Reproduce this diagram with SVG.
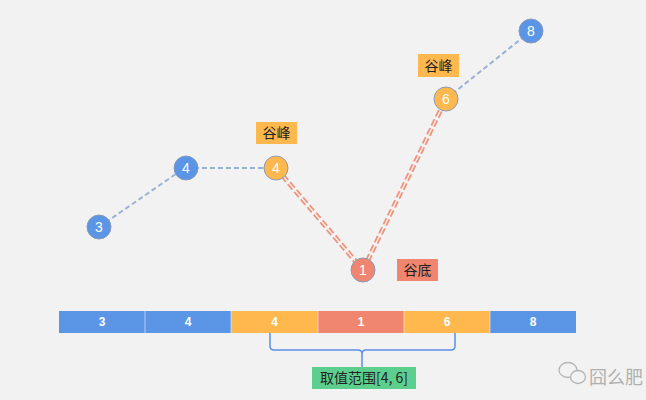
<svg xmlns="http://www.w3.org/2000/svg" width="646" height="400" viewBox="0 0 646 400">
<style>
.n{stroke:#8a9bb8;stroke-width:1}
.blue{fill:#5b96e6}.orange{fill:#ffb84d}.red{fill:#f0866f}
.nt{font-family:"Liberation Sans",Arial,sans-serif;font-size:14px;fill:#fff;text-anchor:middle}
.lt{font-family:"Noto Sans CJK SC","Liberation Sans",sans-serif;font-size:14px;fill:#222;text-anchor:middle}
.bt{font-family:"Liberation Sans",Arial,sans-serif;font-size:12px;font-weight:bold;fill:#fff;text-anchor:middle}
.bd{stroke:#9ab2d6;stroke-width:2;stroke-dasharray:5 3;fill:none}
.rd{stroke:#f0937c;stroke-width:5;stroke-dasharray:7 3;fill:none}
.rin{stroke:#f2f2f2;stroke-width:1.4;fill:none}
</style>
<rect width="646" height="400" fill="#f2f2f2"/>
<g id="connectors">
<line class="bd" x1="99" y1="227" x2="186" y2="167"/>
<line class="bd" x1="186" y1="168" x2="276" y2="168"/>
<line class="bd" x1="446" y1="99" x2="531" y2="31"/>
<line class="rd" x1="276" y1="168" x2="363" y2="270"/>
<line class="rin" x1="276" y1="168" x2="363" y2="270"/>
<line class="rd" x1="363" y1="270" x2="446" y2="99"/>
<line class="rin" x1="363" y1="270" x2="446" y2="99"/>
</g>
<g id="n3"><circle class="n blue" cx="99" cy="227" r="12"/><text class="nt" x="99" y="232">3</text></g>
<g id="n4a"><circle class="n blue" cx="186" cy="168" r="12"/><text class="nt" x="186" y="173">4</text></g>
<g id="n4b"><circle class="n orange" cx="276" cy="168" r="12"/><text class="nt" x="276" y="173">4</text></g>
<g id="n1"><circle class="n red" cx="363" cy="270" r="12"/><text class="nt" x="363" y="275">1</text></g>
<g id="n6"><circle class="n orange" cx="446" cy="99" r="12"/><text class="nt" x="446" y="104">6</text></g>
<g id="n8"><circle class="n blue" cx="531" cy="31" r="12"/><text class="nt" x="531" y="36">8</text></g>
<g id="peak1"><rect class="orange" x="256" y="122" width="41" height="22"/><text class="lt" x="276.5" y="138">谷峰</text></g>
<g id="peak2"><rect class="orange" x="418" y="54" width="41" height="23"/><text class="lt" x="438.5" y="70.5">谷峰</text></g>
<g id="valley"><rect class="red" x="397" y="259" width="41" height="22"/><text class="lt" x="417.5" y="275">谷底</text></g>
<g id="bar">
<rect class="blue" x="59" y="311" width="86" height="22"/>
<rect class="blue" x="145" y="311" width="86" height="22"/>
<rect class="orange" x="231" y="311" width="87" height="22"/>
<rect class="red" x="318" y="311" width="86" height="22"/>
<rect class="orange" x="404" y="311" width="86" height="22"/>
<rect class="blue" x="490" y="311" width="86" height="22"/>
<g stroke="#f2f2f2" stroke-width="1" opacity="0.6"><line x1="145" y1="311" x2="145" y2="333"/><line x1="231" y1="311" x2="231" y2="333"/><line x1="318" y1="311" x2="318" y2="333"/><line x1="404" y1="311" x2="404" y2="333"/><line x1="490" y1="311" x2="490" y2="333"/></g>
<text class="bt" x="102" y="326">3</text>
<text class="bt" x="188" y="326">4</text>
<text class="bt" x="274.5" y="326">4</text>
<text class="bt" x="361" y="326">1</text>
<text class="bt" x="447" y="326">6</text>
<text class="bt" x="533" y="326">8</text>
</g>
<g id="brace"><path d="M270 333 V346 Q270 350 274 350 H358 Q362 350 362 354 V367 M362 354 Q362 350 366 350 H451 Q455 350 455 346 V333" fill="none" stroke="#5b8ee6" stroke-width="1.5"/></g>
<g id="range"><rect x="312" y="367" width="104" height="22" fill="#5ccf8f"/><text class="lt" x="364" y="383">取值范围[4, 6]</text></g>
<g id="watermark" fill="none" stroke="#b5b5b5" stroke-width="1.3">
<ellipse cx="568" cy="370" rx="9" ry="7.5"/>
<ellipse cx="578" cy="377" rx="7.5" ry="6.5" fill="#f2f2f2"/>
<text x="589" y="384" font-family="'Noto Sans CJK SC',sans-serif" font-size="18" fill="#b0b0b0" stroke="none">囧么肥</text>
</g>
</svg>
